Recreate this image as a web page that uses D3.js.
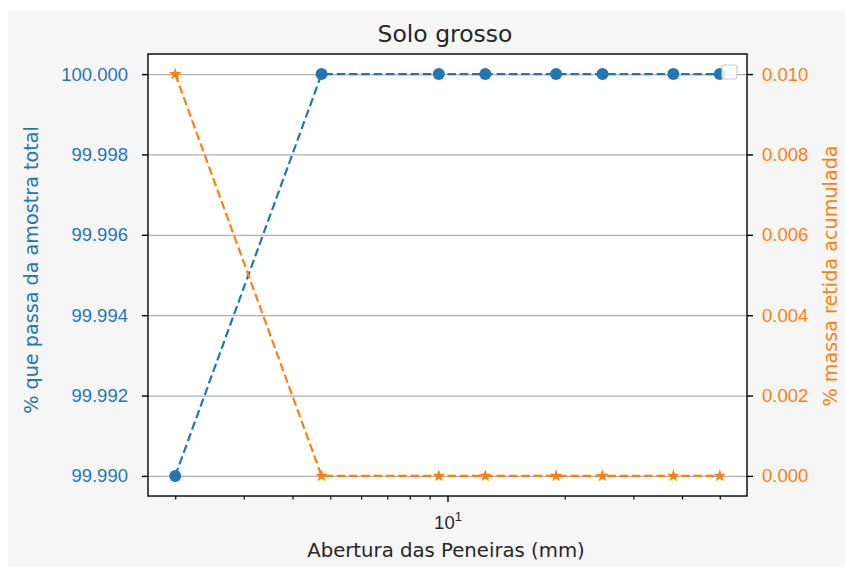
<!DOCTYPE html>
<html>
<head>
<meta charset="utf-8">
<script src="https://cdn.jsdelivr.net/npm/d3@7"></script>
<style>
  body { margin: 0; background: #ffffff; }
  svg { display: block; font-family: "DejaVu Sans", sans-serif; }
</style>
</head>
<body>
<svg id="chart"></svg>
<script>
// dados da peneiracao
const aberturas = [2.0, 4.75, 9.5, 12.5, 19.0, 25.0, 38.0, 50.0];
const passante = [99.990, 100.000, 100.000, 100.000, 100.000, 100.000, 100.000, 100.000];
const retida = [0.010, 0.000, 0.000, 0.000, 0.000, 0.000, 0.000, 0.000];
const ticksEsq = [99.990, 99.992, 99.994, 99.996, 99.998, 100.000];
const ticksDir = [0.000, 0.002, 0.004, 0.006, 0.008, 0.010];
const ticksMenores = [2, 3, 4, 5, 6, 7, 8, 9, 20, 30, 40, 50];
const ticksMaiores = [10];

const azul = "#1f77b4", laranja = "#ff7f0e";
const W = 845, H = 567;
const esq = 148, dir = 747, topo = 54, base = 496;

const svg = d3.select("#chart").attr("width", W).attr("height", H);

svg.append("rect").attr("x", 8).attr("y", 10).attr("width", W - 8).attr("height", H - 10)
    .attr("fill", "#f6f6f6");
svg.append("rect").attr("x", esq).attr("y", topo).attr("width", dir - esq).attr("height", base - topo)
    .attr("fill", "#ffffff");

// margens de 5% como no matplotlib
const lo = Math.log10(d3.min(aberturas)), hi = Math.log10(d3.max(aberturas));
const pad = (hi - lo) * 0.05;
const x = d3.scaleLog().domain([Math.pow(10, lo - pad), Math.pow(10, hi + pad)]).range([esq, dir]);

function comMargem(v) {
    const a = d3.min(v), b = d3.max(v), m = (b - a) * 0.05;
    return [a - m, b + m];
}
const yL = d3.scaleLinear().domain(comMargem(passante)).range([base, topo]);
const yR = d3.scaleLinear().domain(comMargem(retida)).range([base, topo]);

// grade horizontal
svg.append("g")
    .attr("transform", `translate(${esq},0)`)
    .call(d3.axisLeft(yL).tickValues(ticksEsq).tickSize(-(dir - esq)).tickFormat(""))
    .call(g => g.select(".domain").remove())
    .call(g => g.selectAll(".tick line").attr("stroke", "#b0b0b0").attr("stroke-width", 1.3));

// eixo x
svg.append("g").attr("transform", `translate(0,${base})`)
    .call(d3.axisBottom(x).tickValues(ticksMenores).tickSize(3.5).tickFormat(""))
    .call(g => g.select(".domain").remove())
    .call(g => g.selectAll(".tick line").attr("stroke", "#000").attr("stroke-width", 1.2));
const gxM = svg.append("g").attr("transform", `translate(0,${base})`)
    .call(d3.axisBottom(x).tickValues(ticksMaiores).tickSize(6).tickFormat(""))
    .call(g => g.select(".domain").remove())
    .call(g => g.selectAll(".tick line").attr("stroke", "#000").attr("stroke-width", 1.4));
gxM.selectAll(".tick").append("text")
    .attr("y", 32.5).attr("fill", "#262626").attr("text-anchor", "middle")
    .style("font-size", "18.5px")
    .call(t => {
        t.append("tspan").text("10");
        t.append("tspan").attr("dy", -7.5).style("font-size", "13px").text(d => Math.round(Math.log10(d)));
    });

// eixo esquerdo
svg.append("g")
    .attr("transform", `translate(${esq},0)`)
    .call(d3.axisLeft(yL).tickValues(ticksEsq).tickSize(6).tickPadding(14).tickFormat(d3.format(".3f")))
    .call(g => g.select(".domain").remove())
    .call(g => g.selectAll(".tick line").attr("stroke", "#000").attr("stroke-width", 1.4))
    .call(g => g.selectAll(".tick text").attr("fill", azul).style("font-size", "18.5px"));

// eixo direito
svg.append("g")
    .attr("transform", `translate(${dir},0)`)
    .call(d3.axisRight(yR).tickValues(ticksDir).tickSize(6).tickPadding(9).tickFormat(d3.format(".3f")))
    .call(g => g.select(".domain").remove())
    .call(g => g.selectAll(".tick line").attr("stroke", "#000").attr("stroke-width", 1.4))
    .call(g => g.selectAll(".tick text").attr("fill", laranja).style("font-size", "18.5px"));

const dash = "8.5,3.8";

// % que passa
svg.append("path")
    .datum(aberturas.map((a, i) => [a, passante[i]]))
    .attr("fill", "none").attr("stroke", azul).attr("stroke-width", 2.2).attr("stroke-dasharray", dash)
    .attr("d", d3.line().x(d => x(d[0])).y(d => yL(d[1])));
svg.selectAll(".ponto")
    .data(aberturas.map((a, i) => [a, passante[i]]))
    .enter().append("circle")
    .attr("class", "ponto")
    .attr("cx", d => x(d[0])).attr("cy", d => yL(d[1])).attr("r", 6)
    .attr("fill", azul);

// legenda vazia
svg.append("rect")
    .attr("x", dir - 25).attr("y", topo + 11).attr("width", 15).attr("height", 14)
    .attr("rx", 2.5).attr("fill", "#ffffff").attr("fill-opacity", 0.85)
    .attr("stroke", "#cccccc").attr("stroke-width", 1.2);

// % retida acumulada
svg.append("path")
    .datum(aberturas.map((a, i) => [a, retida[i]]))
    .attr("fill", "none").attr("stroke", laranja).attr("stroke-width", 2.2).attr("stroke-dasharray", dash)
    .attr("d", d3.line().x(d => x(d[0])).y(d => yR(d[1])));
svg.selectAll(".estrela")
    .data(aberturas.map((a, i) => [a, retida[i]]))
    .enter().append("path")
    .attr("class", "estrela")
    .attr("transform", d => `translate(${x(d[0])},${yR(d[1])})`)
    .attr("d", d3.symbol().type(d3.symbolStar).size(50))
    .attr("fill", laranja);

// moldura
svg.append("rect").attr("x", esq).attr("y", topo).attr("width", dir - esq).attr("height", base - topo)
    .attr("fill", "none").attr("stroke", "#000").attr("stroke-width", 1.4);

// textos
svg.append("text")
    .attr("x", 445).attr("y", 42)
    .attr("text-anchor", "middle").attr("fill", "#262626")
    .style("font-size", "23.5px")
    .text("Solo grosso");

svg.append("text")
    .attr("x", 446).attr("y", 557)
    .attr("text-anchor", "middle").attr("fill", "#262626")
    .style("font-size", "19.7px")
    .text("Abertura das Peneiras (mm)");

svg.append("text")
    .attr("transform", "translate(38,270) rotate(-90)")
    .attr("text-anchor", "middle").attr("fill", azul)
    .style("font-size", "19.2px")
    .text("% que passa da amostra total");

svg.append("text")
    .attr("transform", "translate(837,276) rotate(-90)")
    .attr("text-anchor", "middle").attr("fill", laranja)
    .style("font-size", "19.2px")
    .text("% massa retida acumulada");
</script>
</body>
</html>
